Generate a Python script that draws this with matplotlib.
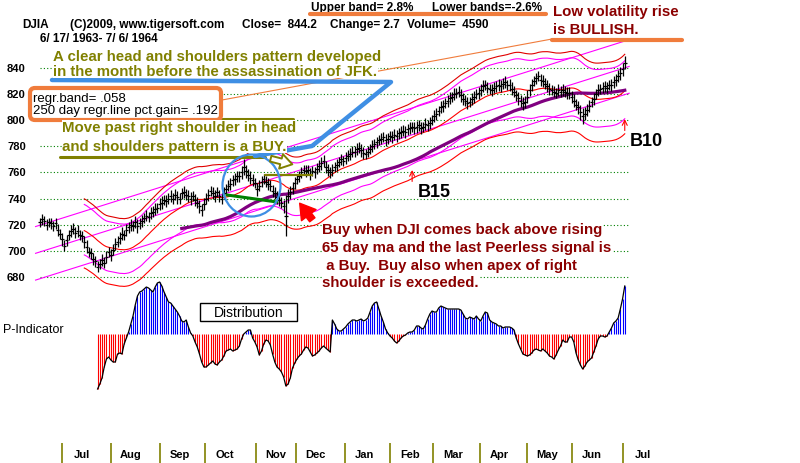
import numpy as np
import pandas as pd
import matplotlib
matplotlib.use('Agg')
import matplotlib.pyplot as plt
from matplotlib import transforms
from matplotlib.patches import Ellipse, FancyBboxPatch, Rectangle
from matplotlib.lines import Line2D

# daily DJIA closes 6/17/1963 - 7/6/1964
closes = [
    722, 724, 723, 720, 722, 721, 719, 721, 716, 713,
    709, 704, 708, 712, 715, 717, 714, 715, 712, 711,
    707, 703, 699, 698, 694, 692, 688, 690, 693, 691,
    695, 699, 697, 701, 705, 707, 710, 713, 712, 716,
    718, 720, 719, 722, 719, 721, 723, 725, 727, 726,
    729, 730, 732, 733, 736, 737, 739, 738, 740, 742,
    740, 743, 741, 740, 744, 745, 743, 742, 740, 742,
    739, 737, 734, 731, 736, 740, 743, 746, 744, 742,
    745, 742, 740, 744, 747, 750, 751, 754, 755, 757,
    757, 760, 764, 761, 758, 756, 754, 752, 747, 750,
    753, 755, 753, 751, 750, 746, 744, 741, 739, 737,
    734, 727, 742, 745, 748, 752, 755, 757, 760, 762,
    761, 762, 759, 761, 760, 763, 765, 767, 769, 764,
    762, 760, 762, 764, 766, 768, 770, 769, 771, 773,
    774, 776, 776, 778, 779, 777, 775, 774, 776, 778,
    780, 782, 783, 785, 786, 787, 785, 786, 788, 787,
    789, 788, 790, 791, 792, 791, 793, 794, 795, 794,
    795, 796, 794, 795, 797, 796, 798, 800, 803, 805,
    807, 810, 811, 813, 815, 817, 818, 820, 821, 822,
    819, 816, 815, 813, 814, 816, 818, 820, 821, 823,
    826, 827, 825, 824, 823, 825, 826, 827, 826, 828,
    829, 827, 827, 824, 822, 819, 817, 815, 813, 814,
    818, 823, 827, 830, 832, 834, 831, 830, 828, 826,
    824, 823, 822, 821, 823, 822, 823, 822, 821, 821,
    818, 815, 812, 810, 806, 803, 805, 808, 811, 814,
    816, 820, 823, 824, 825, 826, 825, 827, 827, 829,
    831, 834, 836, 839, 844,
]
# daily high-low span in points
spans = [
    7, 9, 8, 8, 7, 9, 8, 8, 9, 8,
    10, 9, 9, 8, 9, 8, 8, 9, 8, 9,
    9, 10, 8, 9, 9, 8, 9, 8, 9, 8,
    9, 8, 9, 8, 9, 8, 9, 10, 8, 9,
    8, 9, 8, 9, 10, 8, 9, 8, 9, 8,
    9, 8, 9, 8, 9, 10, 8, 9, 8, 9,
    9, 8, 10, 9, 8, 9, 8, 9, 10, 8,
    9, 8, 10, 9, 9, 8, 9, 8, 9, 9,
    8, 9, 8, 9, 8, 9, 9, 8, 9, 9,
    9, 10, 12, 10, 9, 10, 9, 8, 10, 9,
    9, 8, 9, 9, 8, 9, 9, 10, 9, 9,
    10, 32, 11, 10, 9, 9, 8, 9, 9, 8,
    9, 8, 9, 8, 9, 8, 9, 10, 9, 9,
    9, 8, 9, 8, 9, 8, 9, 8, 9, 8,
    9, 8, 9, 9, 8, 10, 9, 8, 9, 8,
    9, 8, 9, 8, 9, 8, 9, 9, 8, 9,
    8, 9, 8, 9, 8, 9, 8, 9, 8, 9,
    9, 8, 9, 8, 9, 8, 9, 8, 9, 9,
    8, 9, 9, 8, 9, 9, 8, 9, 8, 9,
    10, 9, 8, 9, 8, 9, 9, 8, 9, 9,
    9, 8, 9, 8, 9, 9, 8, 9, 9, 8,
    9, 8, 9, 10, 9, 9, 10, 9, 10, 9,
    10, 9, 9, 8, 9, 8, 9, 9, 8, 9,
    9, 8, 9, 8, 9, 8, 9, 8, 9, 9,
    9, 10, 9, 10, 11, 12, 10, 9, 9, 8,
    9, 8, 9, 8, 9, 8, 9, 8, 9, 9,
    9, 9, 10, 10, 10,
]
# P-Indicator, starts on trading day 26
p_start = 26
p_ind = [
    -55, -50, -44, -33, -25, -23, -26, -28, -28, -20,
    -19, -20, -10, -4, 2, 10, 18, 29, 38, 42,
    43, 45, 47, 46, 44, 42, 47, 51, 52, 48,
    42, 37, 32, 31, 28, 25, 22, 18, 13, 12,
    14, 7, 1, -2, -8, -13, -20, -28, -33, -33,
    -31, -29, -27, -30, -31, -28, -26, -22, -17, -16,
    -15, -17, -16, -15, -12, -5, 0, 2, 4, 4,
    -4, -8, -13, -21, -17, -10, -6, -7, -11, -20,
    -28, -33, -35, -38, -43, -52, -50, -44, -34, -29,
    -25, -22, -20, -16, -13, -14, -18, -22, -21, -19,
    -17, -14, -12, -14, -16, -18, 14, 10, 5, 3,
    3, 5, 7, 10, 12, 14, 14, 13, 14, 15,
    13, 14, 16, 22, 28, 31, 32, 25, 18, 12,
    5, 1, -2, -4, -7, -9, -7, -4, -2, -1,
    1, 2, 2, 4, 8, 8, 6, 5, 9, 15,
    20, 23, 22, 22, 26, 28, 27, 26, 25, 25,
    25, 25, 25, 25, 24, 20, 16, 15, 17, 16,
    15, 18, 15, 13, 18, 22, 21, 14, 12, 11,
    10, 8, 8, 6, 7, 7, 7, 6, 4, -4,
    -10, -15, -20, -21, -22, -21, -19, -16, -15, -16,
    -17, -15, -17, -19, -22, -23, -25, -21, -16, -12,
    -6, -8, -8, -3, -3, -8, -19, -26, -31, -35,
    -32, -28, -26, -24, -18, -12, -5, -2, -2, -3,
    -2, 2, 6, 11, 13, 16, 25, 35, 48,
]

grid_levels = [680, 700, 720, 740, 760, 780, 800, 820, 840]
month_days = [10, 32, 54, 74.5, 97.5, 115.5, 137.5, 158, 177.5, 198.5, 220, 240, 263]
month_names = ['Jul', 'Aug', 'Sep', 'Oct', 'Nov', 'Dec', 'Jan', 'Feb', 'Mar', 'Apr', 'May', 'Jun', 'Jul']

# 250 day regression line end points and channel offsets
regr_days = [-2, 266]
regr_mid = [698.1, 841.2]
regr_offsets = [20.5, 0, -20.5]

signal_days = [168, 264]
signal_prices = [764, 803]
signal_labels = ['B15', 'B10']

W, H = 800, 464
OLIVE = '#808000'
DKRED = '#8b0000'
ORANGE = '#f07c3c'
BLUE = '#3f8fe4'
MAG = '#ff00ff'

plt.rcParams['font.family'] = ['Liberation Sans', 'DejaVu Sans']

fig = plt.figure(figsize=(W / 100, H / 100), dpi=100)
fig.patch.set_facecolor('white')
pxu = transforms.Affine2D().scale(1 / W, 1 / H) + fig.transFigure


def P(x, y):
    # pixel position measured from top-left
    return (x, H - y)


# price panel
ax = fig.add_axes([0, 0, 1, (H - 43) / H])
xlim = (-40 / 2.215, (W - 40) / 2.215)
ax.set_xlim(*xlim)
ax.set_ylim(840 - (H - 69) / 1.306, 840 + (69 - 43) / 1.306)
ax.axis('off')

ax.hlines(grid_levels, 0, 265.5, colors='#008000', linestyles=(0, (1, 2)), lw=0.8, zorder=1)
ytf = transforms.blended_transform_factory(pxu, ax.transData)
for lvl in grid_levels:
    ax.text(7, lvl, str(lvl), transform=ytf, ha='left', va='center', fontsize=8, fontweight='bold')

days = np.arange(len(closes))
c = np.array(closes, float)
s = np.array(spans, float)
cs = pd.Series(c)
ma21 = cs.rolling(21).mean()
ma65 = cs.rolling(65).mean()

for off in regr_offsets:
    ax.plot(regr_days, np.array(regr_mid) + off, color=MAG, lw=0.8, zorder=2)

ax.plot(days, ma21, color='#ff0000', lw=0.8, zorder=2)
ax.plot(days, ma21 * 1.034, color='#e00000', lw=0.8, zorder=2)
ax.plot(days, ma21 * 0.96, color='#ff0000', lw=0.8, zorder=2)
ax.plot(days, ma21 * 1.028, color=MAG, lw=0.8, zorder=2)
ax.plot(days, ma21 * 0.974, color=MAG, lw=0.8, zorder=2)
ax.plot(days, ma65, color='#800080', lw=2.3, zorder=3)

ax.vlines(days, c - s / 2, c + s / 2, color='black', lw=0.9, zorder=4)
ax.hlines(c, days - 0.8, days + 0.8, color='black', lw=0.9, zorder=4)

for d, p, lbl in zip(signal_days, signal_prices, signal_labels):
    ax.annotate('', xy=(d, p), xytext=(d, p - 13),
                arrowprops=dict(arrowstyle='->', color='red', lw=0.8, mutation_scale=9), zorder=5)
    ax.annotate(lbl, xy=(d, p), xytext=(22, -24), textcoords='offset pixels',
                ha='center', va='center', fontsize=13, fontweight='bold')

# P-Indicator panel
axp = fig.add_axes([0, 0, 1, 1])
axp.set_xlim(*xlim)
axp.set_ylim(-129, 335)
axp.axis('off')
axp.patch.set_alpha(0)
pdays = np.arange(p_start, p_start + len(p_ind))
pv = np.array(p_ind, float)
axp.vlines(pdays, 0, pv, colors=np.where(pv >= 0, '#0000ff', '#ff0000'), lw=0.8)
axp.plot(pdays, pv, color='black', lw=0.9)

fig.text(*P(3, 330), 'P-Indicator', transform=pxu, ha='left', va='center', fontsize=9)
fig.patches.append(Rectangle(P(200, 322), 97, 18, transform=pxu, fc='white', ec='black', lw=1))
fig.text(*P(248.5, 313), 'Distribution', transform=pxu, ha='center', va='center', fontsize=10)

# month axis
mtf = transforms.blended_transform_factory(axp.transData, pxu)
axp.vlines(month_days, H - 444, 0, transform=mtf, colors=OLIVE, lw=1.2, clip_on=False)
for d, name in zip(month_days, month_names):
    axp.text(d + 9, H - 455, name, transform=mtf, ha='center', va='center', fontsize=8, fontweight='bold')

# header
hdr = dict(transform=pxu, ha='left', va='center', fontsize=8.5, fontweight='bold')
fig.text(*P(311, 8), 'Upper band= 2.8%', **hdr)
fig.text(*P(432, 8), 'Lower bands=-2.6%', **hdr)
fig.text(*P(22, 25), 'DJIA', **hdr)
fig.text(*P(70, 25), '(C)2009, www.tigersoft.com', **hdr)
fig.text(*P(242, 25), 'Close=  844.2', **hdr)
fig.text(*P(330, 25), 'Change= 2.7', **hdr)
fig.text(*P(407, 25), 'Volume=  4590', **hdr)
fig.text(*P(40, 39), '6/ 17/ 1963- 7/ 6/ 1964', **hdr)


def pline(pts, color, lw, z=6):
    xs, ys = zip(*[P(x, y) for x, y in pts])
    fig.lines.append(Line2D(xs, ys, transform=pxu, color=color, lw=lw, zorder=z,
                            solid_capstyle='round', solid_joinstyle='round'))


# annotations
pline([(310, 15), (546, 15)], ORANGE, 3)
pline([(552, 41), (682, 41)], ORANGE, 3)
pline([(222, 101), (552, 40)], ORANGE, 0.8)
pline([(222, 120), (293, 120)], OLIVE, 2.2)
pline([(60, 158), (265, 158)], OLIVE, 2.2)
pline([(265, 176), (312, 176)], OLIVE, 1.6)
pline([(227, 196), (277, 203)], '#008000', 2.2)
pline([(52, 81), (391, 83), (312, 147), (255, 157)], BLUE, 3.2)
fig.patches.append(Ellipse(P(251.5, 186.5), 58, 62, transform=pxu, fill=False, ec=BLUE, lw=1.6, zorder=6))
fig.patches.append(FancyBboxPatch(P(30, 121), 191, 32, boxstyle='round,pad=0,rounding_size=5',
                                  transform=pxu, fc='white', ec=ORANGE, lw=3, zorder=6))
fig.text(*P(33, 99), 'regr.band= .058', transform=pxu, ha='left', va='center', fontsize=9.5, zorder=7)
fig.text(*P(33, 111), '250 day regr.line pct.gain= .192', transform=pxu, ha='left', va='center',
         fontsize=9.5, zorder=7)

fig.patches.append(matplotlib.patches.FancyArrowPatch(
    P(268, 159), P(295, 166), transform=pxu, fc='white', ec=OLIVE, lw=1.4, zorder=6,
    arrowstyle='simple,head_width=0.9,head_length=0.7,tail_width=0.35', mutation_scale=12))
fig.patches.append(matplotlib.patches.FancyArrowPatch(
    P(314, 223), P(298, 202), transform=pxu, color='red', zorder=6,
    arrowstyle='simple,head_width=1.1,head_length=0.9,tail_width=0.4', mutation_scale=12))

note = dict(transform=pxu, ha='left', va='center', fontsize=10.8, fontweight='bold', zorder=7,
            bbox=dict(fc='white', ec='none', pad=0.3))
fig.text(*P(53, 57), 'A clear head and shoulders pattern developed', color=OLIVE, **note)
fig.text(*P(53, 72), 'in the month before the assassination of JFK.', color=OLIVE, **note)
fig.text(*P(62, 128), 'Move past right shoulder in head', color=OLIVE, **note)
fig.text(*P(62, 147), 'and shoulders pattern is a BUY.', color=OLIVE, **note)
fig.text(*P(553, 12), 'Low volatility rise', color=DKRED, **note)
fig.text(*P(553, 30), 'is BULLISH.', color=DKRED, **note)
buy_lines = ['Buy when DJI comes back above rising',
             '65 day ma and the last Peerless signal is',
             ' a Buy.  Buy also when apex of right',
             'shoulder is exceeded.']
for i, line in enumerate(buy_lines):
    fig.text(*P(322, 230 + 17.8 * i), line, color=DKRED, **note)

fig.savefig('out.png', dpi=100, facecolor='white')
